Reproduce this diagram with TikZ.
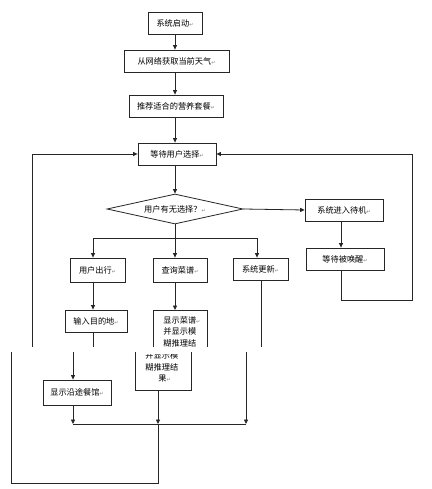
\documentclass[tikz,border=0pt]{standalone}
\usepackage{fontspec}
\newfontfamily\cjk{Noto Sans CJK SC}
\newfontfamily\djv{DejaVu Sans}
\usetikzlibrary{shapes.geometric,arrows.meta}
\newcommand{\ret}{{\djv\fontsize{5}{5}\selectfont\color{gray}↵}}
\begin{document}
\begin{tikzpicture}[x=1pt,y=-1pt,line width=0.8pt,
  box/.style={draw=black!85,rectangle,inner sep=0pt,font=\cjk\fontsize{8.2}{11}\selectfont},
  txt/.style={inner sep=0pt,font=\cjk\fontsize{8.2}{11}\selectfont,anchor=west},
  arr/.style={-{Triangle[length=4.5pt,width=4pt]}},
  ln/.style={draw=black!85}]
\useasboundingbox[fill=white] (0,0) rectangle (431,489);

% upper part
\node[box,minimum width=54pt,minimum height=22pt] (start) at (175,23) {系统启动\ret};
\node[box,minimum width=105pt,minimum height=22pt] (fetch) at (176.5,61) {从网络获取当前天气\ret};
\node[box,minimum width=94pt,minimum height=22pt] (recom) at (176,106) {推荐适合的营养套餐\ret};
\node[box,minimum width=78pt,minimum height=22pt] (wait) at (177,154) {等待用户选择\ret};
\node[box,diamond,aspect=4.53,minimum width=136pt,minimum height=30pt] (dia) at (175,209) {用户有无选择？\ret};
\node[box,minimum width=78pt,minimum height=22pt] (standby) at (344,210) {系统进入待机\ret};
\node[box,minimum width=78pt,minimum height=22pt] (wake) at (345,259) {等待被唤醒\ret};
\node[box,minimum width=55pt,minimum height=24pt] (travel) at (97.5,270) {用户出行\ret};
\node[box,minimum width=54pt,minimum height=24pt] (query) at (180,270) {查询菜谱\ret};
\node[box,minimum width=55pt,minimum height=22pt] (update) at (260.5,269) {系统更新\ret};
\node[box,minimum width=62pt,minimum height=22pt] (dest) at (96,321) {输入目的地\ret};

\draw[ln,arr] (start.south) -- (start.south |- fetch.north);
\draw[ln,arr] (start.south |- fetch.south) -- (start.south |- recom.north);
\draw[ln,arr] (start.south |- recom.south) -- (start.south |- wait.north);
\draw[ln,arr] (start.south |- wait.south) -- (dia.north);
\draw[ln,arr] (dia.east) -- (standby.west);
\draw[ln,arr] ([xshift=-3pt]standby.south) -- ([xshift=-3pt]standby.south |- wake.north);
\coordinate (rc) at (412,300);
\draw[ln,arr] ([xshift=-4pt]wake.south) |- (rc) |- (wait.east);
\coordinate (ll) at (32,347);
\draw[ln,arr] (ll) |- (wait.west);

\coordinate (bl) at (93,238);
\coordinate (br) at (257,238);
\draw[ln] (dia.south) -- (dia.south |- bl);
\draw[ln] (bl) -- (br);
\draw[ln,arr] (bl) -- (bl |- travel.north);
\draw[ln,arr] (dia.south |- bl) -- (dia.south |- query.north);
\draw[ln,arr] (br) -- (br |- update.north);
\draw[ln,arr] (bl |- travel.south) -- (bl |- dest.north);
\coordinate (mu) at (175,310);
\draw[ln,arr] (dia.south |- query.south) -- (mu);
\draw[ln] (bl |- dest.south) -- (93,347);
\coordinate (uu) at (261,280);
\draw[ln] (uu) -- (261,347);
\draw[ln] (153,347) -- (153,310) -- (207,310) -- (207,347);
\node[txt] (m1) at (163,320) {显示菜谱\ret};
\node[txt] (m2) at (163,331.5) {并显示模};
\node[txt] (m3) at (163,343) {糊推理结};

% lower (shifted) part
\node[box,minimum width=68pt,minimum height=25pt] (rest) at (77,392.5) {显示沿途餐馆\ret};
\coordinate (a73) at (73,352);
\draw[ln,arr] (a73) -- (a73 |- rest.north);
\coordinate (j1) at (73,424);
\coordinate (j2) at (158,424);
\coordinate (j3) at (246,424);
\draw[ln,arr] (a73 |- rest.south) -- (j1);
\draw[ln] (j1) -- (j3);
\draw[ln,arr] (246,352) -- (j3);
\draw[ln] (135,352) -- (135,390) -- (191,390) -- (191,352);
\coordinate (lb) at (158,390);
\draw[ln,arr] (lb) -- (j2);
\draw[ln] (j2) |- (11,483) -- (11,352);
\begin{scope}
\clip (130,354.5) rectangle (195,395);
\node[txt] (n1) at (145,355.5) {并显示模};
\end{scope}
\node[txt] (n2) at (145,367) {糊推理结};
\node[txt] (n3) at (158,379) {果\ret};
\end{tikzpicture}
\end{document}
